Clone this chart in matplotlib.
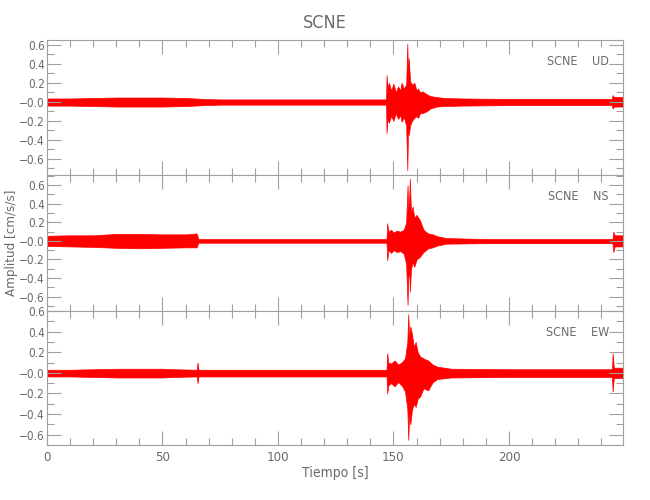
import numpy as np
import matplotlib
matplotlib.use("Agg")
import matplotlib.pyplot as plt
from matplotlib.ticker import MultipleLocator, FuncFormatter

plt.rcParams['font.family'] = ['DejaVu Sans']
plt.rcParams['font.stretch'] = 'condensed'

# envelope of each trace: time [s], upper, lower [cm/s/s]
t_ud = [0, 10, 20, 30, 40, 50, 60, 68, 75, 100, 130, 146.8,
        147.0, 147.4, 148, 149, 150, 151, 152, 153, 153.5, 154.5, 155.5,
        156.0, 156.3, 156.6, 157.2, 158, 159, 160, 160.6, 161.5, 162.5,
        164.4, 166, 168.7, 172, 180, 200, 230, 244.5, 244.9, 245.5, 249.5]
up_ud = [0.035, 0.035, 0.04, 0.045, 0.045, 0.045, 0.04, 0.03, 0.025, 0.025, 0.025, 0.025,
         0.28, 0.15, 0.2, 0.12, 0.19, 0.1, 0.16, 0.12, 0.2, 0.14, 0.18,
         0.61, 0.25, 0.46, 0.22, 0.18, 0.2, 0.12, 0.14, 0.1, 0.11,
         0.08, 0.06, 0.05, 0.04, 0.035, 0.03, 0.03, 0.03, 0.07, 0.05, 0.05]
lo_ud = [-0.04, -0.04, -0.045, -0.05, -0.05, -0.05, -0.045, -0.035, -0.03, -0.03, -0.03, -0.03,
         -0.33, -0.18, -0.22, -0.15, -0.2, -0.12, -0.18, -0.14, -0.21, -0.16, -0.25,
         -0.72, -0.3, -0.35, -0.25, -0.2, -0.17, -0.15, -0.17, -0.12, -0.12,
         -0.1, -0.07, -0.05, -0.045, -0.04, -0.035, -0.035, -0.035, -0.07, -0.05, -0.05]

t_ns = [0, 10, 20, 30, 40, 50, 60, 64.8, 65.5, 100, 130, 147.0,
        147.3, 147.8, 149, 150, 151.5, 153, 154.5, 155.5,
        156.1, 156.4, 156.8, 157.1, 157.6, 158.3, 159, 160, 161.5, 163,
        165, 167, 169, 173, 190, 220, 244.8, 245.2, 245.8, 249.5]
up_ns = [0.055, 0.06, 0.06, 0.075, 0.075, 0.07, 0.07, 0.08, 0.02, 0.02, 0.02, 0.02,
         0.19, 0.1, 0.12, 0.09, 0.11, 0.1, 0.12, 0.2,
         0.6, 0.35, 0.45, 0.67, 0.3, 0.37, 0.25, 0.28, 0.22, 0.12,
         0.08, 0.07, 0.05, 0.03, 0.02, 0.02, 0.02, 0.1, 0.06, 0.06]
lo_ns = [-0.055, -0.06, -0.065, -0.075, -0.08, -0.075, -0.07, -0.07, -0.02, -0.02, -0.02, -0.02,
         -0.21, -0.1, -0.13, -0.1, -0.12, -0.11, -0.14, -0.25,
         -0.69, -0.4, -0.3, -0.55, -0.3, -0.23, -0.28, -0.2, -0.17, -0.12,
         -0.08, -0.07, -0.05, -0.03, -0.025, -0.025, -0.025, -0.12, -0.06, -0.06]

t_ew = [0, 10, 20, 30, 40, 50, 55, 64.8, 65.2, 65.6, 80, 120, 147.0,
        147.3, 147.8, 149, 150.5, 152, 153.5, 155,
        156.0, 156.4, 156.8, 157.3, 158, 158.8, 159.6, 160.5, 161.5, 163,
        165, 167, 169, 175, 200, 230, 244.6, 244.9, 245.4, 249.5]
up_ew = [0.03, 0.03, 0.035, 0.04, 0.04, 0.04, 0.035, 0.03, 0.1, 0.03, 0.03, 0.03, 0.03,
         0.19, 0.1, 0.09, 0.12, 0.08, 0.1, 0.14,
         0.3, 0.57, 0.35, 0.45, 0.38, 0.25, 0.3, 0.2, 0.16, 0.14,
         0.12, 0.08, 0.06, 0.04, 0.035, 0.035, 0.035, 0.19, 0.05, 0.05]
lo_ew = [-0.035, -0.035, -0.04, -0.045, -0.045, -0.045, -0.04, -0.035, -0.1, -0.035, -0.035, -0.035, -0.035,
         -0.2, -0.12, -0.1, -0.13, -0.09, -0.12, -0.18,
         -0.35, -0.65, -0.4, -0.5, -0.36, -0.3, -0.33, -0.25, -0.23, -0.15,
         -0.17, -0.09, -0.06, -0.045, -0.04, -0.04, -0.04, -0.18, -0.05, -0.05]

traces = [("SCNE    UD", t_ud, up_ud, lo_ud, (-0.77, 0.65)),
          ("SCNE    NS", t_ns, up_ns, lo_ns, (-0.756, 0.71)),
          ("SCNE    EW", t_ew, up_ew, lo_ew, (-0.70, 0.60))]

txt = '#6a6a6a'
axc = '#a0a0a0'


def fmt(v, pos):
    if abs(v) < 1e-9:
        return '\u22120.0'
    return f"{v:.1f}".replace('-', '\u2212')


fig = plt.figure(figsize=(6.5, 5), dpi=100)
bounds = [(0.65, 0.92), (0.378, 0.65), (0.11, 0.378)]
axes = []
for (name, t, up, lo, yl), (b, tp) in zip(traces, bounds):
    ax = fig.add_axes([0.0723, b, 0.8866, tp - b])
    ax.fill_between(t, lo, up, color='red', lw=0.5, edgecolor='red')
    ax.set_xlim(0, 249.5)
    ax.set_ylim(*yl)
    ax.yaxis.set_major_locator(MultipleLocator(0.2))
    ax.yaxis.set_minor_locator(MultipleLocator(0.1))
    ax.xaxis.set_major_locator(MultipleLocator(50))
    ax.xaxis.set_minor_locator(MultipleLocator(10))
    ax.yaxis.set_major_formatter(FuncFormatter(fmt))
    ax.tick_params(which='both', direction='in', top=True, right=True,
                   color=axc, labelcolor=txt, labelsize=8.5, width=0.8)
    ax.tick_params(which='major', length=10, pad=1.5)
    ax.tick_params(which='minor', length=5)
    for s in ax.spines.values():
        s.set_color(axc)
        s.set_linewidth(0.8)
    ax.text(0.975, 0.84, name, transform=ax.transAxes, ha='right', va='center',
            color=txt, fontsize=9)
    axes.append(ax)

for ax in axes[:2]:
    ax.tick_params(labelbottom=False)
axes[2].tick_params(axis='x', labelsize=9.5, pad=4)

axes[2].set_xlabel("Tiempo [s]", color=txt, fontsize=10, labelpad=2)
fig.text(0.017, 0.514, "Amplitud [cm/s/s]", rotation=90, ha='center', va='center',
         color=txt, fontsize=9.5)
fig.text(0.5, 0.955, "SCNE", ha='center', va='center', color=txt, fontsize=13)

fig.savefig("out.png", dpi=100)
